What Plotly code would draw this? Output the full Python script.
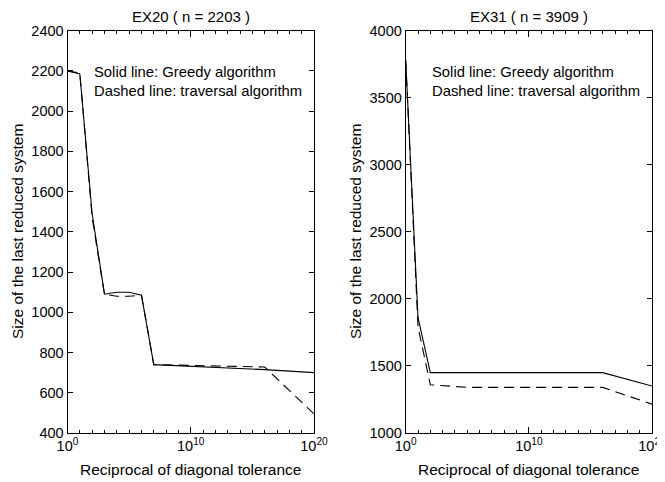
import plotly.graph_objects as go

# ---- data (x given as decade exponents of the reciprocal tolerance) ----
ex20_solid_exp = [0, 1, 2, 3, 4, 5, 6, 7, 16, 20]
ex20_solid_val = [2200, 2185, 1490, 1090, 1100, 1100, 1085, 740, 715, 700]
ex20_dash_exp = [0, 1, 2, 3, 4, 5, 6, 7, 16, 20]
ex20_dash_val = [2200, 2190, 1470, 1090, 1080, 1080, 1085, 740, 728, 495]

ex31_solid_exp = [0, 1, 2, 16, 20]
ex31_solid_val = [3780, 1860, 1450, 1450, 1350]
ex31_dash_exp = [0, 1, 2, 5, 16, 20]
ex31_dash_val = [3780, 1790, 1360, 1340, 1340, 1215]

titles = ["EX20 ( n = 2203 )", "EX31 ( n = 3909 )"]
xlabel = "Reciprocal of diagonal tolerance"
ylabel = "Size of the last reduced system"
note_lines = ["Solid line: Greedy algorithm", "Dashed line: traversal algorithm"]
xtick_exp = [0, 10, 20]
ytick_left = list(range(400, 2401, 200))
ytick_right = list(range(1000, 4001, 500))

W, H = 665, 482
OFF = 8  # page body margin
FONT = "Liberation Sans, Arial, Helvetica, sans-serif"

def px_x(p):
    return (p - OFF) / W

def px_y(p):
    return 1 - (p - OFF) / H

dom_left = [px_x(67.5), px_x(314)]
dom_right = [px_x(405.7), px_x(652)]
dom_y = [px_y(433), px_y(30.7)]

fig = go.Figure()

def pw(exps):
    return [10.0 ** e for e in exps]

fig.add_trace(go.Scatter(x=pw(ex20_solid_exp), y=ex20_solid_val, mode="lines",
                         line=dict(color="black", width=1.1), xaxis="x", yaxis="y", showlegend=False))
fig.add_trace(go.Scatter(x=pw(ex20_dash_exp), y=ex20_dash_val, mode="lines",
                         line=dict(color="black", width=1.1, dash="10px,6px"), xaxis="x", yaxis="y", showlegend=False))
fig.add_trace(go.Scatter(x=pw(ex31_solid_exp), y=ex31_solid_val, mode="lines",
                         line=dict(color="black", width=1.1), xaxis="x2", yaxis="y2", showlegend=False))
fig.add_trace(go.Scatter(x=pw(ex31_dash_exp), y=ex31_dash_val, mode="lines",
                         line=dict(color="black", width=1.1, dash="10px,6px"), xaxis="x2", yaxis="y2", showlegend=False))

xtickvals = [10.0 ** e for e in xtick_exp]
xticktext = ["10<sup>%d</sup>" % e for e in xtick_exp]
minor_vals = [10.0 ** e for e in range(0, 21) if e not in xtick_exp]

def xaxis(domain, anchor):
    return dict(domain=domain, anchor=anchor, type="log", range=[0, 20], automargin=False,
                tickmode="array", tickvals=xtickvals, ticktext=xticktext,
                ticks="inside", ticklen=6, tickwidth=1, tickcolor="black",
                minor=dict(tickmode="array", tickvals=minor_vals, ticks="inside",
                           ticklen=3, tickwidth=1, tickcolor="black"),
                showline=True, linecolor="black", linewidth=1, mirror="ticks",
                showgrid=False, zeroline=False,
                tickfont=dict(family=FONT, size=14.5, color="black"))

def yaxis(anchor, rng, vals):
    return dict(domain=dom_y, anchor=anchor, range=rng, tickmode="array", tickvals=vals,
                automargin=False,
                ticks="inside", ticklen=5, tickwidth=1, tickcolor="black",
                showline=True, linecolor="black", linewidth=1, mirror="ticks",
                showgrid=False, zeroline=False,
                tickfont=dict(family=FONT, size=14.5, color="black"))

annotations = []
centers = [(67.5 + 314) / 2, (405.7 + 652) / 2]
for i, c in enumerate(centers):
    annotations.append(dict(text=titles[i], x=px_x(c), y=px_y(16), xref="paper", yref="paper",
                            showarrow=False, xanchor="center", yanchor="middle",
                            font=dict(family=FONT, size=15, color="black")))
    annotations.append(dict(text=xlabel, x=px_x(c), y=px_y(469), xref="paper", yref="paper",
                            showarrow=False, xanchor="center", yanchor="middle",
                            font=dict(family=FONT, size=15.5, color="black")))
for xc in [17, 355]:
    annotations.append(dict(text=ylabel, x=px_x(xc), y=px_y(232), xref="paper", yref="paper",
                            showarrow=False, xanchor="center", yanchor="middle", textangle=-90,
                            font=dict(family=FONT, size=15.5, color="black")))
for x0 in [92.3, 430]:
    for j, line in enumerate(note_lines):
        annotations.append(dict(text=line, x=px_x(x0), y=px_y(72 + 19 * j), xref="paper", yref="paper",
                                showarrow=False, xanchor="left", yanchor="middle",
                                font=dict(family=FONT, size=14.8, color="black")))

fig.update_layout(
    width=W, height=H,
    margin=dict(l=0, r=0, t=0, b=0),
    paper_bgcolor="white", plot_bgcolor="white",
    xaxis=xaxis(dom_left, "y"),
    yaxis=yaxis("x", [400, 2400], ytick_left),
    xaxis2=xaxis(dom_right, "y2"),
    yaxis2=yaxis("x2", [1000, 4000], ytick_right),
    annotations=annotations,
    showlegend=False,
)

fig.write_html("out.html")
